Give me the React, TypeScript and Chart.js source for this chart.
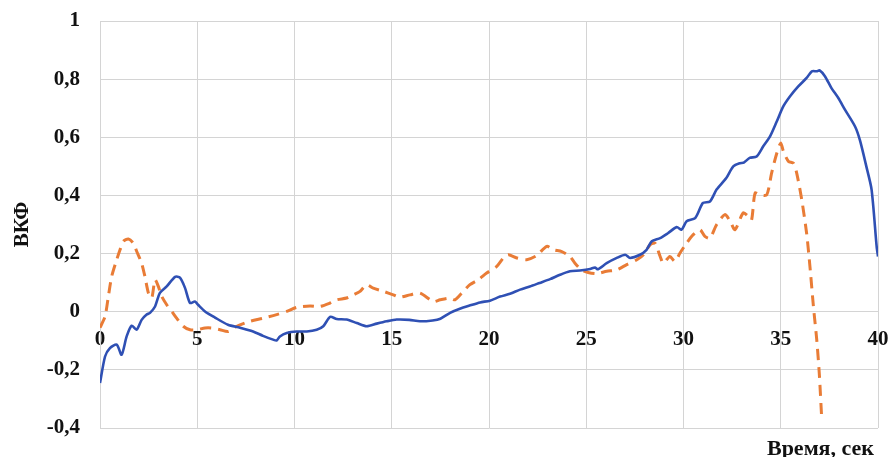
import React, { useEffect, useRef } from "react";
import { Chart, registerables } from "chart.js";

Chart.register(...registerables);

// Blue (solid) cross-correlation curve
const blueTime = [
  0, 0.26, 0.51, 0.86, 1.11, 1.37, 1.63, 1.88, 2.14, 2.4, 2.57, 2.83, 3.08, 3.43, 3.86, 4.11,
  4.37, 4.63, 4.88, 5.04, 5.4, 5.91, 6.58, 7.2, 7.87, 8.38, 8.9, 9.08, 9.25, 9.6, 10.11, 10.63,
  11.14, 11.48, 11.83, 12.17, 12.68, 13.2, 13.71, 14.23, 14.74, 15.25, 15.9, 16.45, 17.1, 17.5,
  18.0, 18.5, 19.0, 19.54, 20.05, 20.57, 21.08, 21.6, 22.1, 22.6, 23.14, 23.65, 24.16, 24.68,
  25.2, 25.45, 25.6, 26.05, 26.57, 27.0, 27.25, 27.76, 28.1, 28.37, 28.8, 29.2, 29.65, 29.9,
  30.16, 30.6, 31.0, 31.36, 31.7, 32.2, 32.56, 32.9, 33.1, 33.4, 33.76, 34.1, 34.45, 34.8, 35.13,
  35.48, 35.9, 36.33, 36.6, 36.85, 37.0, 37.27, 37.6, 37.96, 38.3, 38.82, 39.07, 39.4, 39.67,
  39.93, 40,
];
const blueValue = [
  -0.245, -0.154, -0.125, -0.113, -0.148, -0.085, -0.048, -0.062, -0.028, -0.01, -0.004, 0.018,
  0.065, 0.087, 0.12, 0.117, 0.082, 0.03, 0.035, 0.024, 0.001, -0.02, -0.045, -0.055, -0.068,
  -0.083, -0.096, -0.099, -0.085, -0.073, -0.068, -0.068, -0.062, -0.05, -0.018, -0.025, -0.027,
  -0.039, -0.05, -0.041, -0.033, -0.027, -0.028, -0.033, -0.03, -0.024, -0.004, 0.01, 0.021,
  0.032, 0.038, 0.052, 0.062, 0.076, 0.087, 0.099, 0.112, 0.127, 0.139, 0.142, 0.147, 0.152,
  0.146, 0.167, 0.185, 0.196, 0.185, 0.196, 0.213, 0.242, 0.253, 0.27, 0.291, 0.282, 0.311,
  0.322, 0.374, 0.379, 0.42, 0.46, 0.5, 0.511, 0.513, 0.529, 0.534, 0.569, 0.603, 0.655, 0.706,
  0.741, 0.775, 0.804, 0.827, 0.827, 0.83, 0.81, 0.77, 0.735, 0.695, 0.637, 0.59, 0.5, 0.42,
  0.225, 0.19,
];

// Orange (dashed) cross-correlation curve
const orangeTime = [
  0, 0.26, 0.43, 0.6, 0.86, 1.03, 1.2, 1.46, 1.71, 1.89, 2.14, 2.31, 2.49, 2.66, 2.83, 3.0, 3.17,
  3.43, 3.69, 3.94, 4.28, 4.63, 4.97, 5.4, 5.74, 6.17, 6.6, 7.03, 7.7, 8.4, 9.08, 9.6, 10.11,
  10.8, 11.3, 11.83, 12.17, 12.68, 13.03, 13.37, 13.71, 14.05, 14.57, 15.08, 15.4, 15.94, 16.45,
  17.14, 17.48, 18.0, 18.25, 18.6, 19.02, 19.45, 19.88, 20.4, 20.74, 21.0, 21.43, 21.94, 22.45,
  22.97, 23.3, 23.74, 24.16, 24.42, 24.76, 25.1, 25.53, 26.05, 26.57, 27.08, 27.6, 27.94, 28.28,
  28.53, 28.8, 28.96, 29.3, 29.56, 29.82, 30.16, 30.5, 30.85, 31.1, 31.36, 31.7, 32.13, 32.4,
  32.65, 33.07, 33.33, 33.5, 33.68, 33.93, 34.28, 34.53, 34.8, 35.0, 35.14, 35.4, 35.65, 35.82,
  36.08, 36.33, 36.5, 36.68, 36.85, 36.98, 37.1,
];
const orangeValue = [
  -0.055, -0.016, 0.053, 0.121, 0.179, 0.213, 0.242, 0.25, 0.236, 0.207, 0.167, 0.121, 0.064,
  0.047, 0.11, 0.087, 0.053, 0.024, 0.001, -0.022, -0.05, -0.062, -0.062, -0.056, -0.056, -0.062,
  -0.068, -0.05, -0.033, -0.022, -0.01, 0.001, 0.015, 0.02, 0.018, 0.03, 0.041, 0.047, 0.058,
  0.07, 0.093, 0.081, 0.07, 0.058, 0.05, 0.058, 0.064, 0.035, 0.041, 0.047, 0.041, 0.064, 0.093,
  0.11, 0.133, 0.156, 0.185, 0.196, 0.185, 0.179, 0.193, 0.225, 0.213, 0.207, 0.19, 0.167, 0.144,
  0.135, 0.131, 0.139, 0.144, 0.162, 0.179, 0.196, 0.23, 0.236, 0.19, 0.167, 0.19, 0.173, 0.202,
  0.236, 0.265, 0.282, 0.259, 0.253, 0.299, 0.334, 0.311, 0.282, 0.34, 0.328, 0.316, 0.408,
  0.402, 0.402, 0.477, 0.546, 0.58, 0.551, 0.517, 0.511, 0.477, 0.385, 0.27, 0.156, 0.018,
  -0.096, -0.211, -0.36,
];

// Axis settings
const xTicks = { min: 0, max: 40, step: 5 };
const yTicks = { min: -0.4, max: 1, step: 0.2 };
const yTitle = "ВКФ";
const xTitle = "Время, сек";

const FONT_FAMILY = "'Liberation Serif', 'Times New Roman', serif";
const GRID = "#d4d4d4";
const TEXT = "#111111";

const toPoints = (xs: number[], ys: number[]) => xs.map((x, i) => ({ x, y: ys[i] }));

const formatComma = (v: number) => {
  const r = Math.round(v * 10) / 10;
  if (Number.isInteger(r)) return String(r);
  return r.toFixed(1).replace(".", ",");
};

// Axis caption in the lower right corner, under the plot area
const xTitlePlugin = {
  id: "xTitleBottomRight",
  afterDraw(chart: any) {
    const { ctx, chartArea } = chart;
    ctx.save();
    ctx.font = `bold 22px ${FONT_FAMILY}`;
    ctx.fillStyle = TEXT;
    ctx.textAlign = "right";
    ctx.textBaseline = "alphabetic";
    ctx.fillText(xTitle, chartArea.right - 4, chartArea.bottom + 27);
    ctx.restore();
  },
};

export default function App() {
  const canvasRef = useRef<HTMLCanvasElement | null>(null);

  useEffect(() => {
    if (!canvasRef.current) return;
    const chart = new Chart(canvasRef.current, {
      type: "line",
      data: {
        datasets: [
          {
            data: toPoints(blueTime, blueValue),
            borderColor: "#2f50b4",
            borderWidth: 2.6,
            pointRadius: 0,
            tension: 0.25,
            fill: false,
          },
          {
            data: toPoints(orangeTime, orangeValue),
            borderColor: "#e97c36",
            borderWidth: 3,
            borderDash: [11, 7],
            pointRadius: 0,
            tension: 0.25,
            fill: false,
          },
        ],
      },
      options: {
        animation: false,
        responsive: false,
        devicePixelRatio: 1,
        layout: { padding: { top: 21, right: 12, bottom: 29, left: 0 } },
        plugins: {
          legend: { display: false },
          tooltip: { enabled: false },
        },
        scales: {
          x: {
            type: "linear",
            min: xTicks.min,
            max: xTicks.max,
            position: { y: 0 } as any,
            border: { display: false },
            grid: { color: GRID, lineWidth: 1, drawTicks: false },
            ticks: {
              stepSize: xTicks.step,
              padding: 15,
              color: TEXT,
              font: { family: FONT_FAMILY, size: 21, weight: "bold" },
              maxRotation: 0,
              autoSkip: false,
            },
            afterFit(scale: any) {
              scale.paddingLeft = 0;
              scale.paddingRight = 0;
            },
          },
          y: {
            type: "linear",
            min: yTicks.min,
            max: yTicks.max,
            border: { color: GRID },
            grid: { color: GRID, lineWidth: 1, drawTicks: false },
            ticks: {
              stepSize: yTicks.step,
              padding: 20,
              color: TEXT,
              font: { family: FONT_FAMILY, size: 21, weight: "bold" },
              callback: (v: any) => formatComma(Number(v)),
            },
            title: {
              display: true,
              text: yTitle,
              color: TEXT,
              font: { family: FONT_FAMILY, size: 21, weight: "bold" },
              padding: { top: 10, bottom: 0 },
            },
            afterFit(scale: any) {
              scale.width = 100;
              scale.paddingTop = 0;
              scale.paddingBottom = 0;
            },
          },
        },
      },
      plugins: [xTitlePlugin],
    });
    return () => chart.destroy();
  }, []);

  return (
    <div style={{ position: "fixed", left: 0, top: 0, width: 890, height: 457, background: "#fff" }}>
      <canvas ref={canvasRef} width={890} height={457} />
    </div>
  );
}
